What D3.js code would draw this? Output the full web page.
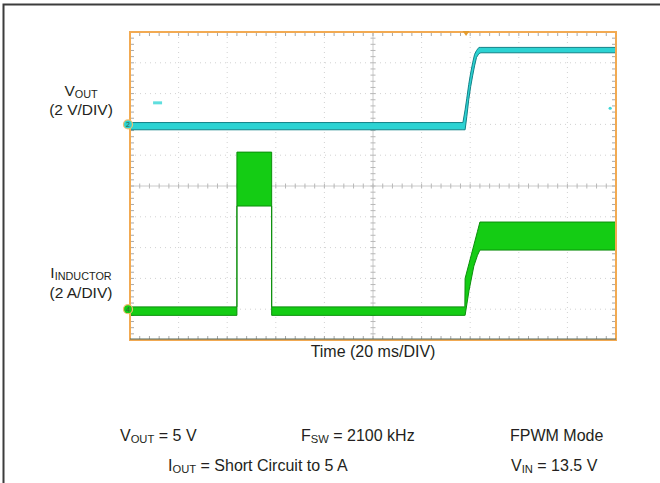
<!DOCTYPE html>
<html>
<head>
<meta charset="utf-8">
<script src="https://cdn.jsdelivr.net/npm/d3@7"></script>
<style>
body { margin: 0; background: #fff; }
svg { display: block; font-family: "Liberation Sans", Arial, sans-serif; }
</style>
</head>
<body>
<div id="scope"></div>
<script>
// time base: 20 ms/DIV, 10 divisions
const timeDomain = [0, 200];
const divDomain = [-5, 5];

// VOUT channel, 2 V/DIV, ground two divisions above centre
const voutRange = [-14, 6];
const voutTime = [0, 137.0, 137.9, 138.6, 139.4, 140.2, 141.0, 141.8, 142.6, 143.6, 144.4, 200];
const voutHigh = [0.12, 0.12, 0.95, 1.7, 2.6, 3.35, 4.0, 4.55, 4.8, 5.0, 5.0, 5.0];
const voutLow = [-0.35, -0.35, -0.35, 0.5, 1.6, 2.45, 3.15, 3.8, 4.35, 4.6, 4.65, 4.65];

// inductor current, 2 A/DIV, ground four divisions below centre
const currentRange = [-2, 18];
const currentTime = [0, 44.0, 44.0, 58.3, 58.3, 137.8, 137.9, 139.5, 141.5, 143.0, 144.0, 200];
const currentHigh = [0.15, 0.15, 10.2, 10.2, 0.15, 0.15, 2.0, 2.96, 4.16, 5.06, 5.66, 5.66];
const currentLow = [-0.4, -0.4, 6.7, 6.7, -0.4, -0.4, -0.4, 1.2, 2.8, 3.5, 3.84, 3.84];

// small scope markers
const triggerTime = 138.3;
const levelMarkTime = [9.5, 13.2];
const levelMarkVolts = 1.4;
const rightMarkTime = 197.6;
const rightMarkVolts = 1.05;

let width = 660, height = 483;
let plot = {left: 130, right: 616, top: 32, bottom: 340};

let svg = d3.select("#scope")
    .append("svg")
    .attr("width", width)
    .attr("height", height);

let x = d3.scaleLinear().domain(timeDomain).range([plot.left, plot.right]);
let yDiv = d3.scaleLinear().domain(divDomain).range([plot.bottom, plot.top]);
let yVolt = d3.scaleLinear().domain(voutRange).range([plot.bottom, plot.top]);
let yAmp = d3.scaleLinear().domain(currentRange).range([plot.bottom, plot.top]);

// outer frame (left and top only)
svg.append("path")
    .attr("d", "M3.5,483V4.5H660")
    .attr("fill", "none")
    .attr("stroke", "#3c3c3c")
    .attr("stroke-width", 2);

// graticule
let grid = svg.append("g");
let majorT = d3.range(20, 200, 20).filter(t => t !== 100);
let majorD = d3.range(-4, 5, 1).filter(d => d !== 0);

grid.selectAll(".vgrid").data(majorT).enter()
    .append("line")
    .attr("x1", d => x(d)).attr("x2", d => x(d))
    .attr("y1", plot.top).attr("y2", plot.bottom)
    .attr("stroke", "#d2d2d2")
    .attr("stroke-dasharray", "1,4");

grid.selectAll(".hgrid").data(majorD).enter()
    .append("line")
    .attr("x1", plot.left).attr("x2", plot.right)
    .attr("y1", d => yDiv(d)).attr("y2", d => yDiv(d))
    .attr("stroke", "#d2d2d2")
    .attr("stroke-dasharray", "1,4");

// centre axes
grid.append("line")
    .attr("x1", x(100)).attr("x2", x(100))
    .attr("y1", plot.top).attr("y2", plot.bottom)
    .attr("stroke", "#cacaca");
grid.append("line")
    .attr("x1", plot.left).attr("x2", plot.right)
    .attr("y1", yDiv(0)).attr("y2", yDiv(0))
    .attr("stroke", "#cacaca");

let minorT = d3.range(0, 200.01, 4);
let minorD = d3.range(-5, 5.01, 0.2);

// minor ticks on centre axes and on the edges
function tickX(cls, y1, y2, col) {
    grid.selectAll("." + cls).data(minorT).enter()
        .append("line")
        .attr("x1", d => x(d)).attr("x2", d => x(d))
        .attr("y1", y1).attr("y2", y2)
        .attr("stroke", col);
}
function tickY(cls, x1, x2, col) {
    grid.selectAll("." + cls).data(minorD).enter()
        .append("line")
        .attr("x1", x1).attr("x2", x2)
        .attr("y1", d => yDiv(d)).attr("y2", d => yDiv(d))
        .attr("stroke", col);
}
tickX("tc", yDiv(0) - 2.5, yDiv(0) + 2.5, "#b8b8b8");
tickX("tt", plot.top, plot.top + 4, "#a8a8a8");
tickX("tb", plot.bottom - 4, plot.bottom, "#a8a8a8");
tickY("yc", x(100) - 2.5, x(100) + 2.5, "#b8b8b8");
tickY("yl", plot.left, plot.left + 4, "#a8a8a8");
tickY("yr", plot.right - 4, plot.right, "#a8a8a8");

// traces as envelope areas
let voutData = voutTime.map((t, i) => ({t: t, hi: voutHigh[i], lo: voutLow[i]}));
let currentData = currentTime.map((t, i) => ({t: t, hi: currentHigh[i], lo: currentLow[i]}));

let voutArea = d3.area()
    .x(d => x(d.t))
    .y0(d => yVolt(d.lo))
    .y1(d => yVolt(d.hi));

let currentArea = d3.area()
    .x(d => x(d.t))
    .y0(d => yAmp(d.lo))
    .y1(d => yAmp(d.hi));

svg.append("path")
    .datum(currentData)
    .attr("d", currentArea)
    .attr("fill", "#14cc14")
    .attr("stroke", "#0b8f0b")
    .attr("stroke-width", 1);

svg.append("path")
    .datum(voutData)
    .attr("d", voutArea)
    .attr("fill", "#2cd3d3")
    .attr("stroke", "#138288")
    .attr("stroke-width", 1);

// little cyan marks
svg.append("rect")
    .attr("x", x(levelMarkTime[0]))
    .attr("y", yVolt(levelMarkVolts) - 1.5)
    .attr("width", x(levelMarkTime[1]) - x(levelMarkTime[0]))
    .attr("height", 3)
    .attr("fill", "#5fdede");
svg.append("circle")
    .attr("cx", x(rightMarkTime))
    .attr("cy", yVolt(rightMarkVolts))
    .attr("r", 1.6)
    .attr("fill", "#3fd6d6");

// screen border
svg.append("rect")
    .attr("x", plot.left).attr("y", plot.top)
    .attr("width", plot.right - plot.left)
    .attr("height", plot.bottom - plot.top)
    .attr("fill", "none")
    .attr("stroke", "#f2aa52")
    .attr("stroke-width", 2);
svg.append("line")
    .attr("x1", plot.left).attr("x2", plot.right)
    .attr("y1", plot.bottom - 1).attr("y2", plot.bottom - 1)
    .attr("stroke", "#52695f");

// trigger position marker
let tx = x(triggerTime);
svg.append("path")
    .attr("d", `M${tx - 3.5},${plot.top - 1}H${tx + 3.5}L${tx},${plot.top + 4}Z`)
    .attr("fill", "#e39b2e");

// channel ground markers
let markers = [
    {y: yVolt(0), fill: "#2cd3d3", label: "2"},
    {y: yAmp(0), fill: "#14cc14", label: "4"}
];
let mk = svg.selectAll(".mk").data(markers).enter().append("g");
mk.append("circle")
    .attr("cx", 128).attr("cy", d => d.y)
    .attr("r", 4.5)
    .attr("fill", d => d.fill)
    .attr("stroke", "#f0c070")
    .attr("stroke-width", 1.2);
mk.append("text")
    .attr("x", 128).attr("y", d => d.y + 2.5)
    .attr("text-anchor", "middle")
    .style("font-size", "7px")
    .attr("fill", "#3a5a3a")
    .text(d => d.label);

// text with a subscript
function subText(xp, yp, main, sub, rest, anchor, size) {
    let t = svg.append("text")
        .attr("x", xp).attr("y", yp)
        .attr("text-anchor", anchor)
        .style("font-size", size + "px")
        .attr("fill", "#231f20");
    t.append("tspan").text(main);
    t.append("tspan").attr("dy", 2).style("font-size", (size * 0.7) + "px").text(sub);
    if (rest) t.append("tspan").attr("dy", -2).text(rest);
    return t;
}
function plainText(xp, yp, s, anchor, size) {
    return svg.append("text")
        .attr("x", xp).attr("y", yp)
        .attr("text-anchor", anchor)
        .style("font-size", size + "px")
        .attr("fill", "#231f20")
        .text(s);
}

// channel labels
subText(81, 96, "V", "OUT", null, "middle", 15.5);
plainText(81, 115, "(2 V/DIV)", "middle", 15.5);
subText(81, 278, "I", "INDUCTOR", null, "middle", 15.5);
plainText(81, 298, "(2 A/DIV)", "middle", 15.5);

// x axis label
plainText(x(100), 357, "Time (20 ms/DIV)", "middle", 16);

// test conditions
subText(120, 441, "V", "OUT", " = 5 V", "start", 16);
subText(301, 441, "F", "SW", " = 2100 kHz", "start", 16);
plainText(510, 441, "FPWM Mode", "start", 16);
subText(168, 471, "I", "OUT", " = Short Circuit to 5 A", "start", 16);
subText(511, 471, "V", "IN", " = 13.5 V", "start", 16);
</script>
</body>
</html>
